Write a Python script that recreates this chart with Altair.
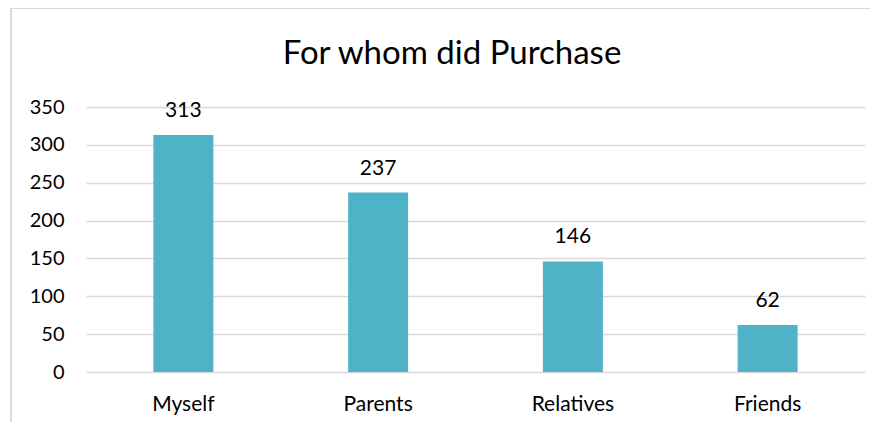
import altair as alt
import pandas as pd

title_text = "For whom did Purchase"
categories = ["Myself", "Parents", "Relatives", "Friends"]
values = [313, 237, 146, 62]
y_ticks = [0, 50, 100, 150, 200, 250, 300, 350]

df = pd.DataFrame({"who": categories, "count": values})
FONT = "Lato"

base = alt.Chart(df).encode(
    x=alt.X("who:N", sort=categories,
            scale=alt.Scale(paddingInner=0.692, paddingOuter=0.346),
            axis=alt.Axis(title=None, labelAngle=0, labelFontSize=21, labelColor="#000000",
                          labelFont=FONT, labelPadding=21, ticks=False, domain=False)),
    y=alt.Y("count:Q", scale=alt.Scale(domain=[0, 350], nice=False),
            axis=alt.Axis(title=None, values=y_ticks, labelFontSize=20, labelColor="#000000",
                          labelFont=FONT, labelPadding=22, ticks=False, domain=False,
                          grid=True, gridColor="#d9d9d9", gridWidth=1.5)),
)

bars = base.mark_bar(color="#4FB3C8")
labels = base.mark_text(dy=-18, baseline="alphabetic", fontSize=21, font=FONT, color="#000000").encode(
    text="count:Q")

frame = alt.Chart(df).mark_rect(fill=None, stroke="#d9d9d9", strokeWidth=1.5, clip=False).encode(
    x=alt.value(-75), x2=alt.value(800), y=alt.value(-99), y2=alt.value(330))

title = alt.Chart(pd.DataFrame({"t": [title_text]})).mark_text(
    fontSize=33, font=FONT, color="#000000", align="center", baseline="alphabetic", clip=False
).encode(text="t:N", x=alt.value(366), y=alt.value(-43))

chart = alt.layer(frame, bars, labels, title).properties(
    width=779, height=265,
    autosize=alt.AutoSizeParams(type="none"),
    padding={"left": 78, "top": 99, "right": 5, "bottom": 50},
).configure_view(stroke=None)

chart.save("out.html", embed_options={"renderer": "svg", "actions": False})
